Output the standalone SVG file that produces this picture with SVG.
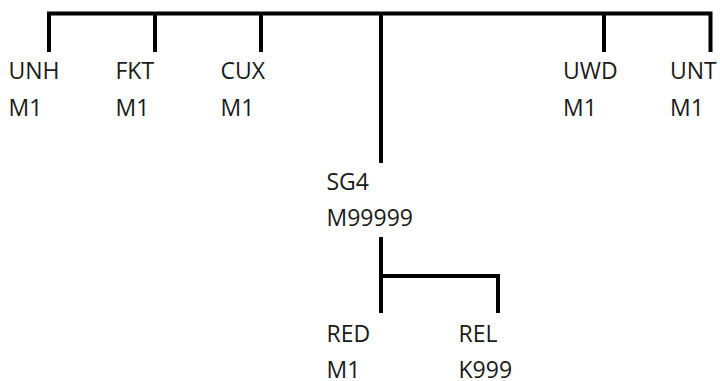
<svg xmlns="http://www.w3.org/2000/svg" width="720" height="381" viewBox="0 0 720 381">
<style>
.c{fill:none;stroke:#000;stroke-width:4;stroke-linecap:butt}
text{font-family:"Open Sans","Noto Sans",sans-serif;font-size:23px;fill:#1a1a1a}
</style>
<rect width="720" height="381" fill="#fff"/>
<g id="connectors">
<path class="c" d="M49 52V13.5H710.5V52"/>
<path class="c" d="M155 13.5V52M261 13.5V52M604 13.5V52M381 13.5V163"/>
<path class="c" d="M381 237V313M381 276H498V313"/>
</g>
<g id="UNH"><text x="8.5" y="78.5">UNH</text><text x="8.5" y="115.5">M1</text></g>
<g id="FKT"><text x="115.5" y="78.5">FKT</text><text x="115.5" y="115.5">M1</text></g>
<g id="CUX"><text x="220.5" y="78.5">CUX</text><text x="220.5" y="115.5">M1</text></g>
<g id="UWD"><text x="563" y="78.5">UWD</text><text x="563" y="115.5">M1</text></g>
<g id="UNT"><text x="670" y="78.5">UNT</text><text x="670" y="115.5">M1</text></g>
<g id="SG4"><text x="326.5" y="190">SG4</text><text x="326.5" y="226">M99999</text></g>
<g id="RED"><text x="326.5" y="342">RED</text><text x="326.5" y="377.5">M1</text></g>
<g id="REL"><text x="458.5" y="342">REL</text><text x="458.5" y="377.5">K999</text></g>
</svg>
